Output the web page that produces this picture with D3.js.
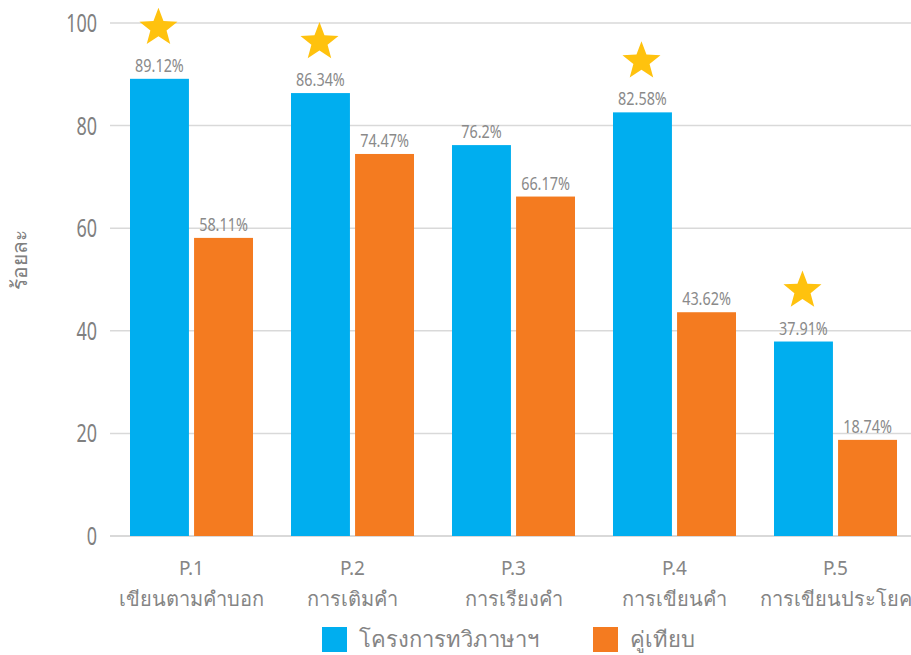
<!DOCTYPE html>
<html>
<head>
<meta charset="utf-8">
<script src="https://cdn.jsdelivr.net/npm/d3@7/dist/d3.min.js"></script>
<style>
  html, body { margin: 0; padding: 0; background: #fff; }
  svg { display: block; }
  text { font-family: "Noto Sans", Roboto, sans-serif; }
</style>
</head>
<body>
<svg id="chart" width="911" height="655"></svg>
<script>
// Categories (two-line labels: code + skill)
const codes = ["P.1", "P.2", "P.3", "P.4", "P.5"];
const skills = ["เขียนตามคำบอก", "การเติมคำ", "การเรียงคำ", "การเขียนคำ", "การเขียนประโยค"];
// Series
const seriesNames = ["โครงการทวิภาษาฯ", "คู่เทียบ"];
const programValues = [89.12, 86.34, 76.2, 82.58, 37.91];
const compareValues = [58.11, 74.47, 66.17, 43.62, 18.74];
// Which program bars get a star
const starred = [true, true, false, true, true];
const yTicks = [0, 20, 40, 60, 80, 100];

const colors = ["#00AEEF", "#F47B20"];
const svg = d3.select("#chart");

const x0 = d3.scaleBand().domain(codes).range([111, 916]).paddingInner(0.236).paddingOuter(0.118);
const x1 = d3.scaleBand().domain([0, 1]).range([0, x0.bandwidth()]).paddingInner(0.08);
const y = d3.scaleLinear().domain([0, 100]).range([536, 23]);

// Condensed number style: horizontal squeeze around an anchor x
const squeeze = (cx, k) => `translate(${cx},0) scale(${k},1) translate(${-cx},0)`;

// Grid lines
svg.append("g").selectAll("line").data(yTicks).join("line")
  .attr("x1", 110).attr("x2", 911)
  .attr("y1", d => y(d)).attr("y2", d => y(d))
  .attr("stroke", "#d9d9d9").attr("stroke-width", d => d === 0 ? 2 : 1.5);

// Y tick labels
svg.append("g").selectAll("text").data(yTicks).join("text")
  .attr("x", 97).attr("y", d => y(d) + 9)
  .attr("text-anchor", "end")
  .attr("font-size", 25).attr("fill", "#808080")
  .attr("font-family", "Roboto, sans-serif")
  .attr("transform", squeeze(97, 0.72))
  .text(d => d);

// Y axis title
svg.append("text")
  .attr("transform", "translate(27,260) rotate(-90)")
  .attr("text-anchor", "middle").attr("font-size", 21).attr("fill", "#808080")
  .text("ร้อยละ");

const rows = codes.map((c, i) => ({ code: c, vals: [programValues[i], compareValues[i]], star: starred[i] }));

const groups = svg.append("g").selectAll("g").data(rows).join("g")
  .attr("transform", d => `translate(${x0(d.code)},0)`);

groups.selectAll("rect").data(d => d.vals.map((v, k) => ({ v, k }))).join("rect")
  .attr("x", d => x1(d.k)).attr("width", x1.bandwidth())
  .attr("y", d => y(d.v)).attr("height", d => y(0) - y(d.v))
  .attr("fill", d => colors[d.k]);

groups.selectAll("text.val").data(d => d.vals.map((v, k) => ({ v, k }))).join("text")
  .attr("class", "val")
  .attr("x", d => x1(d.k) + x1.bandwidth() / 2)
  .attr("y", d => y(d.v) - 7)
  .attr("text-anchor", "middle")
  .attr("font-family", "Roboto, sans-serif")
  .attr("font-size", 18).attr("fill", "#8a8a8a")
  .attr("transform", d => squeeze(x1(d.k) + x1.bandwidth() / 2, 0.8))
  .text(d => d.v + "%");

// Stars above highlighted program bars
function starPath(r1, r2) {
  const pts = [];
  for (let i = 0; i < 10; i++) {
    const a = -Math.PI / 2 + i * Math.PI / 5;
    const r = i % 2 === 0 ? r1 : r2;
    pts.push([r * Math.cos(a), r * Math.sin(a)]);
  }
  return "M" + pts.map(p => p.join(",")).join("L") + "Z";
}
groups.filter(d => d.star).append("path")
  .attr("d", starPath(20, 8.5))
  .attr("fill", "#FFC20E")
  .attr("transform", d => `translate(${x1(0) + x1.bandwidth() / 2 - 1},${y(d.vals[0]) - 51})`);

// X axis labels
const xl = svg.append("g").selectAll("g").data(codes).join("g")
  .attr("transform", d => `translate(${x0(d) + x0.bandwidth() / 2},0)`);
xl.append("text").attr("y", 575).attr("text-anchor", "middle")
  .attr("font-size", 19).attr("fill", "#858585").text(d => d);
xl.append("text").attr("y", 606).attr("text-anchor", "middle")
  .attr("font-size", 20).attr("fill", "#858585").text((d, i) => skills[i]);

// Legend
const legX = [322, 593];
const leg = svg.append("g").selectAll("g").data(seriesNames).join("g")
  .attr("transform", (d, i) => `translate(${legX[i]},627)`);
leg.append("rect").attr("width", 25).attr("height", 25).attr("fill", (d, i) => colors[i]);
leg.append("text").attr("x", 37).attr("y", 20).attr("font-size", 22).attr("fill", "#858585").text(d => d);
</script>
</body>
</html>
